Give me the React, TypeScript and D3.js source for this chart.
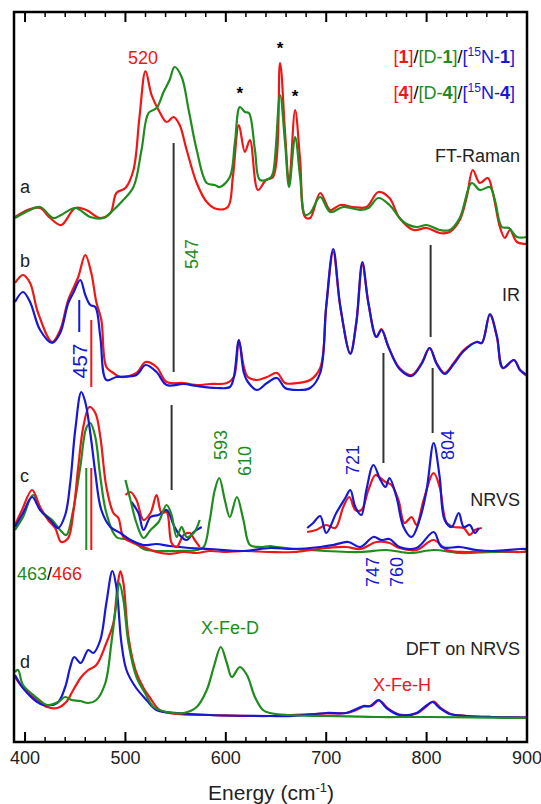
import React from 'react';
import * as d3 from 'd3';

// [energy (cm-1), intensity], intensity in arbitrary units above each panel baseline
const ramanRed = [[390,2.3],[405,3.1],[415,3.2],[425,2.2],[436,1.5],[450,3.2],[461,3.0],[475,2.2],[485,2.7],[491,4.7],[500,5.2],[508,7.0],[514,12.3],[520,16.9],[526,14.5],[533,13.0],[541,11.8],[548,12.3],[554,11.5],[561,9.0],[571,5.7],[581,3.8],[591,3.1],[602,3.3],[607,6.3],[613,11.5],[619,8.8],[624,10.0],[632,5.0],[640,6.0],[647,6.3],[654,17.7],[659,10.7],[663,5.7],[669,13.0],[674,8.0],[679,2.3],[684,2.2],[694,4.7],[704,3.0],[714,3.5],[727,3.3],[740,3.3],[752,4.8],[763,4.2],[773,2.2],[787,1.0],[800,1.2],[813,0.7],[823,0.8],[833,2.0],[840,4.3],[846,7.0],[853,5.7],[861,6.2],[866,4.7],[873,1.3],[878,0.2],[883,1.0],[890,-0.2],[900,-0.4]];
const ramanGreen = [[390,2.2],[405,3.0],[415,3.3],[428,2.2],[436,2.5],[450,3.2],[465,2.3],[478,2.2],[488,3.0],[496,3.8],[508,5.3],[516,9.0],[523,12.7],[531,13.2],[538,14.8],[544,16.0],[549,17.3],[556,16.3],[563,13.0],[571,9.0],[581,5.7],[589,5.5],[594,5.3],[604,6.3],[609,9.7],[614,13.3],[619,12.8],[623,12.7],[629,9.0],[634,6.0],[644,6.2],[647,6.7],[654,14.5],[659,9.7],[663,5.3],[669,10.3],[674,6.3],[679,2.5],[684,2.7],[694,4.3],[704,2.8],[717,3.3],[734,3.0],[742,3.2],[752,4.2],[763,3.5],[777,1.8],[790,1.3],[800,1.5],[813,1.0],[823,1.0],[833,2.2],[845,5.7],[853,5.0],[863,5.3],[868,4.0],[875,1.3],[882,1.2],[890,0.3],[900,0.3]];

const irRed = [[390,10.7],[398,11.5],[405,10.7],[413,7.7],[427,4.8],[435,6.0],[443,9.0],[453,11.3],[460,13.5],[466,11.7],[471,8.8],[476,7.0],[481,2.3],[488,1.7],[495,1.3],[511,1.7],[520,2.8],[531,2.3],[541,0.8],[558,0.7],[571,0.5],[584,0.6],[601,0.7],[608,1.3],[613,5.0],[618,2.3],[622,1.3],[631,1.0],[641,1.3],[651,1.7],[659,0.7],[671,0.7],[684,1.0],[694,2.2],[700,8.3],[707,13.8],[714,8.3],[724,3.7],[730,6.7],[736,12.5],[742,8.7],[750,5.3],[755,6.1],[762,4.3],[773,2.2],[785,1.5],[795,2.7],[803,4.2],[810,2.7],[818,1.7],[827,2.7],[837,4.0],[850,4.8],[855,4.7],[863,7.5],[870,5.3],[876,2.2],[887,3.0],[893,2.0],[900,1.4]];
const irBlue = [[390,8.8],[398,9.8],[405,8.8],[415,6.0],[427,4.7],[435,5.7],[443,8.7],[448,9.7],[455,11.0],[460,9.5],[465,8.5],[470,8.3],[475,5.3],[481,1.0],[491,1.3],[511,1.5],[520,2.5],[531,1.8],[541,0.5],[558,0.6],[571,0.4],[591,0.2],[604,0.3],[608,1.3],[613,5.0],[618,1.7],[622,0.8],[631,0.0],[641,0.7],[651,1.2],[659,0.2],[671,0.0],[684,0.2],[694,1.7],[700,8.4],[707,14.1],[714,8.4],[724,3.6],[730,6.8],[736,12.8],[742,8.7],[750,5.3],[755,6.0],[762,4.3],[773,2.1],[785,1.4],[795,2.6],[803,4.2],[810,2.6],[818,1.6],[827,2.6],[837,3.9],[850,4.8],[855,4.7],[863,7.6],[870,5.4],[876,2.2],[887,3.0],[893,2.0],[900,1.5]];

const nrvsRed = [[390,3.0],[397,4.5],[407,6.5],[415,4.8],[423,3.5],[430,2.7],[436,1.3],[443,1.7],[448,4.2],[453,8.8],[458,12.8],[464,14.8],[470,14.2],[475,11.8],[481,6.8],[488,4.2],[493,3.7],[498,1.8],[508,1.2],[518,0.8],[531,0.3],[544,0.1],[558,0.3],[571,0.2],[584,0.4],[601,0.3],[618,0.4],[644,0.3],[667,0.3],[700,0.7],[720,0.8],[734,0.6],[750,1.3],[763,1.2],[773,0.7],[790,0.5],[807,1.5],[820,0.5],[840,0.3],[866,0.4],[893,0.3],[900,0.4]];
const nrvsBlue = [[390,2.8],[398,4.2],[407,5.8],[415,4.5],[425,3.5],[433,2.7],[440,4.0],[445,7.2],[450,12.5],[456,16.3],[460,15.3],[465,12.2],[470,8.2],[476,4.5],[485,2.8],[495,2.2],[505,1.5],[518,1.0],[531,1.1],[544,0.9],[564,0.7],[584,0.6],[618,0.4],[644,0.7],[667,0.6],[694,0.8],[707,1.0],[722,1.3],[734,0.8],[747,1.8],[755,1.5],[763,1.6],[773,0.8],[790,0.7],[807,2.3],[815,0.8],[833,0.8],[850,0.5],[866,0.4],[893,0.6],[900,0.6]];
const nrvsGreen = [[390,2.5],[398,3.8],[408,6.0],[417,4.3],[427,3.5],[435,2.5],[441,2.0],[448,4.5],[455,8.8],[461,12.7],[465,13.2],[470,11.8],[475,7.8],[481,4.2],[491,1.8],[505,1.5],[518,0.6],[531,0.4],[551,0.4],[571,0.5],[578,0.8],[584,3.5],[589,6.5],[593.5,7.7],[599,5.5],[604,3.8],[611,5.8],[617.5,3.5],[624,1.0],[634,0.8],[644,0.9],[651,0.8],[684,0.5],[734,0.3],[760,0.5],[784,0.2],[807,0.5],[833,0.2],[866,0.3],[893,0.3],[900,0.3]];

// magnified NRVS segments
const zoomLowRed = [[500,6.0],[505,6.3],[511,5.5],[518,3.5],[525,4.2],[531,6.0],[536,4.2],[541,4.3],[546,1.2],[551,0.8],[558,2.0],[564,2.2],[569,1.5],[574,0.8]];
const zoomLowBlue = [[506,5.3],[513,4.2],[518,2.5],[525,3.8],[533,4.0],[541,4.5],[548,3.0],[554,2.0],[561,1.5],[568,2.3],[576,2.8]];
const zoomLowGreen = [[500,7.5],[505,5.5],[511,3.2],[518,1.7],[525,2.5],[533,3.3],[541,5.0],[546,4.0],[551,1.8],[556,2.8],[561,1.8],[568,2.2],[574,3.5]];
const zoomHighRed = [[681,2.3],[690,2.5],[700,3.0],[709,2.7],[717,4.8],[723,5.8],[729,4.5],[735,4.5],[742,6.5],[749,8.0],[754,7.7],[759,7.3],[765,7.0],[772,5.5],[778,3.2],[785,3.8],[790,3.0],[797,5.5],[807,8.2],[813,6.8],[820,3.2],[827,2.8],[837,2.7],[843,2.0],[848,2.5],[855,2.7]];
const zoomHighBlue = [[681,2.7],[687,3.2],[694,3.9],[700,2.2],[710,4.2],[719,5.7],[724,6.5],[729,4.8],[735,4.0],[740,6.5],[747,9.0],[754,7.5],[759,6.8],[763,7.7],[770,5.8],[777,2.8],[785,1.8],[793,3.5],[800,6.5],[807,11.2],[813,7.8],[818,3.5],[825,2.8],[832,4.2],[837,2.8],[843,3.0],[848,2.2],[852,2.7]];

const dftRed = [[390,4.3],[398,3.2],[412,2.0],[422,1.3],[432,1.2],[441,1.8],[448,3.0],[456,4.3],[463,5.0],[471,5.5],[481,7.7],[488,9.7],[492,13.3],[495,14.9],[498,13.7],[503,8.3],[510,5.0],[518,3.2],[524,2.3],[534,1.0],[551,0.6],[584,0.5],[644,0.4],[700,0.65],[720,0.7],[730,1.0],[738,1.35],[745,1.4],[753,1.95],[761,1.2],[773,0.55],[790,0.65],[799,1.3],[807,1.85],[814,1.2],[824,0.6],[840,0.4],[866,0.3],[900,0.25]];
const dftBlue = [[390,4.5],[398,3.2],[412,1.8],[418,1.5],[432,1.7],[440,3.3],[445,5.3],[449,6.3],[455.5,5.7],[463,7.0],[468,6.7],[475,8.0],[481,11.7],[487,14.9],[491,13.3],[496,7.7],[501,5.0],[510,3.3],[521,2.0],[531,1.0],[551,0.7],[584,0.5],[644,0.4],[667,0.4],[700,0.7],[720,0.7],[730,1.1],[737,1.4],[744,1.4],[752,2.0],[760,1.2],[773,0.5],[790,0.7],[798,1.3],[806,1.8],[813,1.2],[823,0.6],[840,0.4],[866,0.3],[900,0.25]];
const dftGreen = [[390,4.8],[393,5.0],[398,3.5],[412,2.2],[422,1.5],[433,1.8],[440,2.3],[446.5,2.0],[455,1.9],[463,1.7],[471,2.0],[480,3.7],[486,7.7],[491,11.7],[494,13.7],[498,12.0],[503,7.7],[511,4.3],[519.5,2.7],[528,1.3],[541,0.8],[558,0.7],[571,1.3],[581,3.0],[588,5.3],[595,7.3],[601,5.7],[606,4.3],[614,5.3],[621,4.5],[629,2.3],[637,1.0],[644,0.7],[661,0.5],[700,0.4],[750,0.3],[800,0.3],[900,0.2]];

// vertical guide lines: [energy, from, to] in absolute intensity units
const guideLines = [[548,59.9,37.0],[546,33.7,25.2],[804,49.7,40.5],[757,38.9,27.9],[806,37.4,30.9]];
// coloured markers: [energy, from, to, colour key]
const peakMarks = [[454,44.2,41.0,'blue'],[466,42.2,35.5,'red'],[461,27.4,19.2,'green'],[466,27.4,19.2,'red']];
// Raman lines marked with * : [energy, height]
const starPeaks = [[614,64.3],[654,68.8],[669,64.0]];

const majorTicks = [400, 500, 600, 700, 800, 900];
const minorTicks = d3.range(400, 901, 20).filter(v => v % 100 !== 0);

const RED = '#f01616';
const GREEN = '#1e8c1e';
const BLUE = '#1717d6';
const colors = { red: RED, green: GREEN, blue: BLUE };

const FONT = 'Liberation Sans, Arial, Helvetica, sans-serif';

export default function App() {
  const left = 14, right = 527, top = 12, bottom = 742;
  const x = d3.scaleLinear().domain([389, 900]).range([left, right]);
  const y = d3.scaleLinear().domain([0, 73]).range([bottom, top]);

  // panel baselines in intensity units
  const offA = 50.2, offB = 35.2, offC = 18.7, offD = 2.2;

  const path = (data, off) =>
    d3.line()
      .x(d => x(d[0]))
      .y(d => y(d[1] + off))
      .curve(d3.curveCatmullRom.alpha(0.5))(data);

  const series = [
    [ramanRed, offA, RED], [ramanGreen, offA, GREEN],
    [irRed, offB, RED], [irBlue, offB, BLUE],
    [nrvsGreen, offC, GREEN], [nrvsRed, offC, RED], [nrvsBlue, offC, BLUE],
    [zoomLowRed, offC, RED], [zoomLowBlue, offC, BLUE], [zoomLowGreen, offC, GREEN],
    [zoomHighRed, offC, RED], [zoomHighBlue, offC, BLUE],
    [dftRed, offD, RED], [dftBlue, offD, BLUE], [dftGreen, offD, GREEN],
  ];

  const txt = { fontFamily: FONT, fontSize: 18 };
  const rot = (cx, cy) => `rotate(-90 ${cx} ${cy})`;

  return (
    <svg width={541} height={804} style={{ position: 'absolute', left: 0, top: 0, background: '#fff' }}>
      <defs>
        <clipPath id="plot">
          <rect x={left} y={top} width={right - left} height={bottom - top} />
        </clipPath>
      </defs>

      <g clipPath="url(#plot)" fill="none" strokeWidth={2.2} strokeLinejoin="round">
        {series.map(([data, off, c], i) => (
          <path key={i} d={path(data, off)} stroke={c} />
        ))}
      </g>

      {guideLines.map(([e, a, b], i) => (
        <line key={i} x1={x(e)} x2={x(e)} y1={y(a)} y2={y(b)} stroke="#333" strokeWidth={2} />
      ))}
      {peakMarks.map(([e, a, b, c], i) => (
        <line key={i} x1={x(e)} x2={x(e)} y1={y(a)} y2={y(b)} stroke={colors[c]} strokeWidth={2} />
      ))}
      {starPeaks.map(([e, h], i) => (
        <text key={i} x={x(e)} y={y(h)} textAnchor="middle" style={{ ...txt, fontSize: 17, fontWeight: 'bold' }} fill="#000">*</text>
      ))}

      {/* frame and ticks */}
      <rect x={left} y={top} width={right - left} height={bottom - top} fill="none" stroke="#000" strokeWidth={2.5} />
      {majorTicks.map(t => (
        <g key={t} stroke="#000" strokeWidth={2}>
          <line x1={x(t)} x2={x(t)} y1={bottom} y2={bottom - 10} />
          <line x1={x(t)} x2={x(t)} y1={top} y2={top + 10} />
        </g>
      ))}
      {minorTicks.map(t => (
        <g key={t} stroke="#000" strokeWidth={1.5}>
          <line x1={x(t)} x2={x(t)} y1={bottom} y2={bottom - 5} />
          <line x1={x(t)} x2={x(t)} y1={top} y2={top + 5} />
        </g>
      ))}
      {majorTicks.map(t => (
        <text key={t} x={x(t)} y={764} textAnchor="middle" style={txt} fill="#222">{t}</text>
      ))}
      <text x={271} y={800} textAnchor="middle" style={{ ...txt, fontSize: 21 }} fill="#222">
        Energy (cm<tspan dy={-8} fontSize={13}>-1</tspan><tspan dy={8}>)</tspan>
      </text>

      {/* legend */}
      <text x={515} y={63} textAnchor="end" style={{ ...txt, fontSize: 18 }}>
        <tspan fill={RED}>[<tspan fontWeight="bold">1</tspan>]</tspan>
        <tspan fill="#000">/</tspan>
        <tspan fill={GREEN}>[D-<tspan fontWeight="bold">1</tspan>]</tspan>
        <tspan fill="#000">/</tspan>
        <tspan fill={BLUE}>[<tspan dy={-7} fontSize={12}>15</tspan><tspan dy={7}>N-</tspan><tspan fontWeight="bold">1</tspan>]</tspan>
      </text>
      <text x={515} y={99} textAnchor="end" style={{ ...txt, fontSize: 18 }}>
        <tspan fill={RED}>[<tspan fontWeight="bold">4</tspan>]</tspan>
        <tspan fill="#000">/</tspan>
        <tspan fill={GREEN}>[D-<tspan fontWeight="bold">4</tspan>]</tspan>
        <tspan fill="#000">/</tspan>
        <tspan fill={BLUE}>[<tspan dy={-7} fontSize={12}>15</tspan><tspan dy={7}>N-</tspan><tspan fontWeight="bold">4</tspan>]</tspan>
      </text>

      {/* panel titles */}
      <text x={520} y={162} textAnchor="end" style={txt} fill="#222">FT-Raman</text>
      <text x={520} y={301} textAnchor="end" style={txt} fill="#222">IR</text>
      <text x={520} y={506} textAnchor="end" style={txt} fill="#222">NRVS</text>
      <text x={520} y={655} textAnchor="end" style={txt} fill="#222">DFT on NRVS</text>

      <text x={20} y={193} style={txt} fill="#222">a</text>
      <text x={20} y={267} style={txt} fill="#222">b</text>
      <text x={20} y={482} style={txt} fill="#222">c</text>
      <text x={20} y={668} style={txt} fill="#222">d</text>

      {/* peak labels */}
      <text x={143} y={64} textAnchor="middle" style={txt} fill={RED}>520</text>
      <text x={192} y={254} textAnchor="middle" dominantBaseline="central" transform={rot(192, 254)} style={txt} fill={GREEN}>547</text>
      <text x={79} y={361} textAnchor="middle" dominantBaseline="central" transform={rot(79, 361)} style={{ ...txt, fontSize: 21 }} fill={BLUE}>457</text>
      <text x={221} y={445} textAnchor="middle" dominantBaseline="central" transform={rot(221, 445)} style={txt} fill={GREEN}>593</text>
      <text x={245} y={461} textAnchor="middle" dominantBaseline="central" transform={rot(245, 461)} style={txt} fill={GREEN}>610</text>
      <text x={353} y={460} textAnchor="middle" dominantBaseline="central" transform={rot(353, 460)} style={txt} fill={BLUE}>721</text>
      <text x={448} y={445} textAnchor="middle" dominantBaseline="central" transform={rot(448, 445)} style={txt} fill={BLUE}>804</text>
      <text x={373} y={572} textAnchor="middle" dominantBaseline="central" transform={rot(373, 572)} style={txt} fill={BLUE}>747</text>
      <text x={397} y={572} textAnchor="middle" dominantBaseline="central" transform={rot(397, 572)} style={txt} fill={BLUE}>760</text>
      <text x={17} y={580} style={txt}>
        <tspan fill={GREEN}>463</tspan><tspan fill="#000">/</tspan><tspan fill={RED}>466</tspan>
      </text>
      <text x={230} y={634} textAnchor="middle" style={txt} fill={GREEN}>X-Fe-D</text>
      <text x={402} y={691} textAnchor="middle" style={txt} fill={RED}>X-Fe-H</text>
    </svg>
  );
}
